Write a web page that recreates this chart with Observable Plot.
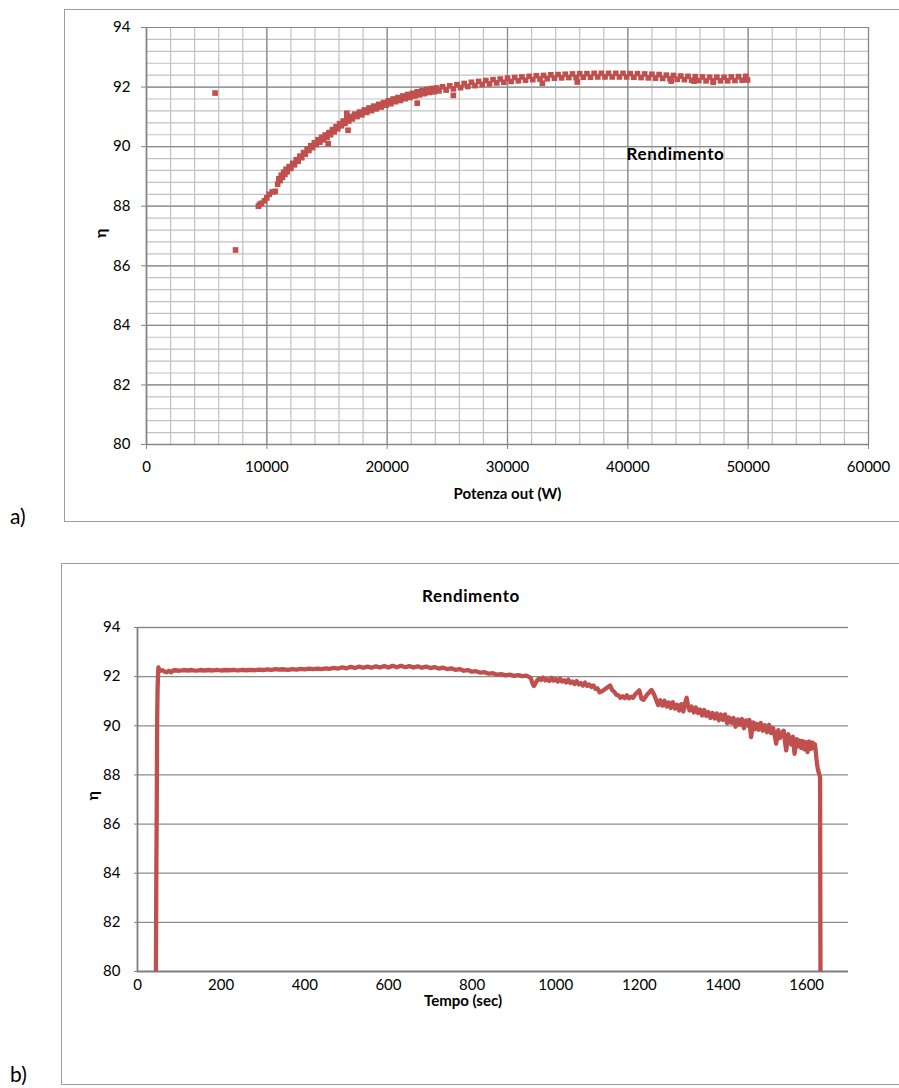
<!DOCTYPE html>
<html><head><meta charset="utf-8">
<script src="https://cdn.jsdelivr.net/npm/d3@7"></script>
<script src="https://cdn.jsdelivr.net/npm/@observablehq/plot@0.6"></script>
<style>
html,body{margin:0;padding:0;background:#fff;}
#page{position:relative;width:899px;height:1088px;overflow:hidden;font-family:Lato,"Open Sans",sans-serif;}
.frame{position:absolute;border:1px solid #9d9d9d;}
.panel{position:absolute;left:0;}
.tag{position:absolute;font-size:21px;color:#000;font-family:Lato,sans-serif;}
</style></head><body><div id="page">
<div class="frame" style="left:64px;top:9px;width:870px;height:511px;"></div>
<div class="frame" style="left:61px;top:563px;width:870px;height:520px;"></div>
<div class="tag" style="left:10px;top:503px">a)</div>
<div class="tag" style="left:10px;top:1061px">b)</div>
<div class="panel" id="chartA" style="top:0"></div>
<div class="panel" id="chartB" style="top:545px"></div>
</div>
<script>
// ---- Chart a) data: efficiency vs output power ----
const xTicksA = [0, 10000, 20000, 30000, 40000, 50000, 60000];
const yTicksA = [80, 82, 84, 86, 88, 90, 92, 94];
const powerW = [
 9300, 9400, 9550, 9800, 10000, 10200, 10450, 10700,
 10900, 11000, 11100, 11200, 11300, 11400, 11500, 11600, 11700, 11850, 12000, 12150,
 12300, 12450, 12600, 12750, 12900, 13050, 13200, 13350, 13500, 13650, 13800, 13950,
 14100, 14250, 14400, 14550, 14700, 14850, 15000, 15150, 15300, 15450, 15600, 15750,
 15900, 16050, 16200, 16350, 16500, 16650, 16800, 16950, 17100, 17300, 17500, 17700,
 17900, 18100, 18300, 18500, 18700, 18900, 19100, 19300, 19500, 19700, 19900, 20100,
 20300, 20500, 20700, 20900, 21100, 21300, 21500, 21700, 21900, 22100, 22300, 22500,
 22700, 22900, 23100, 23300, 23500, 23700, 23900, 24100, 24300, 24600, 24900, 25200,
 25500, 25800, 26100, 26400, 26700, 27000, 27300, 27600, 27900, 28200, 28500, 28800,
 29100, 29400, 29700, 30000, 30300, 30600, 30900, 31200, 31500, 31800, 32100, 32400,
 32700, 33000, 33300, 33600, 33900, 34200, 34500, 34800, 35100, 35400, 35700, 36000,
 36300, 36600, 36900, 37200, 37500, 37800, 38100, 38400, 38700, 39000, 39300, 39600,
 39900, 40200, 40500, 40800, 41100, 41400, 41700, 42000, 42300, 42600, 42900, 43200,
 43500, 43800, 44100, 44400, 44700, 45000, 45300, 45600, 45900, 46200, 46500, 46800,
 47100, 47400, 47700, 48000, 48300, 48600, 48900, 49200, 49500, 49800, 49950,
 5700, 7400, 15100, 16750, 16650, 22500, 25500, 32900, 35800, 43600, 47100, 45500
];
const etaA = [
 88.00, 88.06, 88.10, 88.18, 88.28, 88.40, 88.48, 88.50,
 88.74, 88.92, 88.86, 89.04, 88.97, 89.14, 89.07, 89.24, 89.16, 89.33, 89.27, 89.44,
 89.39, 89.56, 89.51, 89.68, 89.63, 89.80, 89.75, 89.92, 89.87, 90.03, 89.97, 90.13,
 90.07, 90.23, 90.15, 90.31, 90.23, 90.39, 90.31, 90.47, 90.40, 90.57, 90.50, 90.67,
 90.60, 90.77, 90.70, 90.86, 90.78, 90.94, 90.86, 91.01, 90.93, 91.09, 91.01, 91.16,
 91.07, 91.23, 91.15, 91.30, 91.21, 91.36, 91.27, 91.42, 91.33, 91.48, 91.39, 91.54,
 91.44, 91.60, 91.51, 91.65, 91.55, 91.70, 91.61, 91.75, 91.65, 91.79, 91.70, 91.84,
 91.74, 91.88, 91.78, 91.92, 91.82, 91.95, 91.84, 91.97, 91.87, 92.01, 91.90, 92.04,
 91.94, 92.08, 91.98, 92.12, 92.02, 92.16, 92.05, 92.19, 92.09, 92.22, 92.11, 92.25,
 92.14, 92.27, 92.16, 92.30, 92.19, 92.32, 92.21, 92.34, 92.23, 92.36, 92.25, 92.38,
 92.27, 92.39, 92.28, 92.41, 92.30, 92.42, 92.31, 92.43, 92.32, 92.44, 92.32, 92.45,
 92.33, 92.45, 92.33, 92.46, 92.34, 92.46, 92.34, 92.46, 92.34, 92.46, 92.34, 92.46,
 92.34, 92.45, 92.33, 92.45, 92.32, 92.44, 92.31, 92.43, 92.30, 92.42, 92.29, 92.40,
 92.28, 92.39, 92.26, 92.37, 92.25, 92.36, 92.23, 92.35, 92.22, 92.34, 92.21, 92.33,
 92.21, 92.33, 92.21, 92.33, 92.21, 92.34, 92.22, 92.35, 92.23, 92.36, 92.24,
 91.80, 86.53, 90.10, 90.55, 91.12, 91.46, 91.72, 92.13, 92.17, 92.20, 92.16, 92.20
];

// ---- Chart b) data: efficiency vs time ----
const xTicksB = [0, 200, 400, 600, 800, 1000, 1200, 1400, 1600];
const yTicksB = [80, 82, 84, 86, 88, 90, 92, 94];
const timeS = [
 44, 45, 46, 47, 48, 49, 50, 52, 55, 60, 65, 70, 75, 80, 85, 90,
 100, 110, 120, 130, 140, 150, 160, 170, 180, 190, 200, 210, 220, 230, 240, 250,
 260, 270, 280, 290, 300, 310, 320, 330, 340, 350, 360, 370, 380, 390, 400, 410,
 420, 430, 440, 450, 460, 470, 480, 490, 500, 510, 520, 530, 540, 550, 560, 570,
 580, 590, 600, 610, 620, 630, 640, 650, 660, 670, 680, 690, 700, 710, 720, 730,
 740, 750, 760, 770, 780, 790, 800, 810, 820, 830, 840, 850, 860, 870, 880, 890,
 900, 910, 920, 930, 940, 945, 948, 952, 956,
 960, 965, 970, 975, 980, 985, 990, 995, 1000, 1005,
 1010, 1015, 1020, 1025, 1030, 1035, 1040, 1045, 1050, 1055,
 1060, 1065, 1070, 1075, 1080, 1085, 1090, 1095, 1100, 1105,
 1110, 1115, 1120, 1125, 1130, 1135, 1140, 1145, 1150, 1155,
 1160, 1165, 1170, 1175, 1180, 1185, 1190, 1195, 1200, 1205,
 1210, 1215, 1220, 1225, 1229, 1235, 1240, 1245, 1250, 1255,
 1260, 1265, 1270, 1275, 1280, 1285, 1290, 1295, 1300, 1305,
 1309, 1313, 1317, 1320, 1325, 1330, 1335, 1340, 1345, 1350,
 1355, 1360, 1365, 1370, 1375, 1380, 1385, 1390, 1395, 1400,
 1405, 1410, 1415, 1420, 1425, 1430, 1435, 1440, 1445, 1450,
 1455, 1460, 1463, 1467, 1472, 1476, 1480, 1485, 1490, 1495,
 1500, 1505, 1510, 1515, 1520, 1524, 1527, 1532, 1536, 1540,
 1545, 1548, 1551, 1556, 1560, 1563, 1567, 1571, 1576, 1580,
 1583, 1587, 1590, 1594, 1598, 1602, 1606, 1610, 1614, 1618,
 1620, 1622, 1624, 1626, 1629, 1632, 1633
];
const etaB = [
 80.0, 84.0, 86.6, 90.2, 91.5, 92.0, 92.38, 92.30, 92.24, 92.26, 92.20, 92.18, 92.24, 92.18, 92.25, 92.26,
 92.24, 92.27, 92.25, 92.27, 92.24, 92.27, 92.25, 92.27, 92.25, 92.28, 92.25, 92.27, 92.26, 92.28, 92.25, 92.28,
 92.26, 92.28, 92.26, 92.29, 92.27, 92.30, 92.28, 92.31, 92.29, 92.30, 92.28, 92.31, 92.29, 92.32, 92.30, 92.33,
 92.31, 92.33, 92.31, 92.34, 92.32, 92.36, 92.33, 92.38, 92.34, 92.40, 92.35, 92.41, 92.36, 92.41, 92.36, 92.42,
 92.37, 92.43, 92.37, 92.44, 92.38, 92.44, 92.38, 92.43, 92.37, 92.42, 92.36, 92.41, 92.35, 92.39, 92.33, 92.37,
 92.31, 92.34, 92.28, 92.31, 92.24, 92.27, 92.20, 92.22, 92.16, 92.18, 92.12, 92.14, 92.08, 92.10, 92.05, 92.08,
 92.03, 92.06, 92.02, 92.04, 91.95, 91.70, 91.62, 91.75, 91.85,
 91.92, 91.86, 91.96, 91.85, 91.90, 91.82, 91.95, 91.84, 91.90, 91.80,
 91.92, 91.80, 91.85, 91.76, 91.88, 91.74, 91.80, 91.70, 91.82, 91.68,
 91.74, 91.64, 91.76, 91.62, 91.68, 91.58, 91.64, 91.50, 91.52, 91.36,
 91.40, 91.46, 91.52, 91.58, 91.64, 91.45, 91.38, 91.26, 91.24, 91.14,
 91.20, 91.12, 91.24, 91.12, 91.18, 91.14, 91.28, 91.36, 91.44, 91.10,
 91.06, 91.18, 91.30, 91.38, 91.46, 91.28, 91.06, 90.84, 91.04, 90.82,
 91.02, 90.78, 90.95, 90.72, 90.96, 90.70, 90.86, 90.62, 90.88, 90.58,
 90.90, 91.14, 90.76, 90.62, 90.78, 90.54, 90.74, 90.52, 90.66, 90.42,
 90.64, 90.40, 90.56, 90.32, 90.52, 90.30, 90.50, 90.22, 90.46, 90.24,
 90.46, 90.10, 90.34, 90.12, 90.32, 89.96, 90.26, 90.04, 90.28, 89.90,
 90.22, 90.00, 90.24, 89.54, 90.14, 89.86, 90.08, 89.84, 90.12, 89.80,
 90.02, 89.74, 90.04, 89.70, 89.90, 89.56, 89.27, 89.82, 89.50, 89.70,
 89.80, 89.36, 89.00, 89.66, 89.36, 89.24, 89.56, 88.86, 89.46, 89.16,
 89.40, 89.10, 89.38, 89.04, 89.34, 88.93, 89.36, 89.06, 89.32, 89.08,
 89.24, 88.90, 88.55, 88.30, 88.08, 87.92, 80.0
];

const RED = "#C0504D";
const FONT = "Lato, 'Open Sans', sans-serif";

const nA = Math.min(powerW.length, etaA.length);
const dataA = d3.range(nA).map(i => ({p: powerW[i], e: etaA[i]}));
const minorXA = d3.range(0, 60001, 2000);
const minorYA = d3.range(0, 36).map(i => 80 + i * 0.4).filter(v => v <= 94.001);

const chartA = Plot.plot({
  width: 899, height: 530,
  marginLeft: 146, marginRight: 31, marginTop: 27, marginBottom: 86,
  style: {fontFamily: FONT, fontSize: "15px", color: "#000", background: "transparent", overflow: "visible"},
  x: {domain: [0, 60000]},
  y: {domain: [80, 94]},
  marks: [
    Plot.ruleX(minorXA, {stroke: "#c2c2c2", strokeWidth: 1.2}),
    Plot.ruleY(minorYA, {stroke: "#c2c2c2", strokeWidth: 1.2}),
    Plot.ruleX(xTicksA, {stroke: "#888888", strokeWidth: 1.2}),
    Plot.ruleY(yTicksA, {stroke: "#888888", strokeWidth: 1.2}),
    Plot.ruleX([0], {stroke: "#868686", strokeWidth: 1.6}),
    Plot.ruleY([80], {stroke: "#868686", strokeWidth: 1.6}),
    Plot.axisX({ticks: xTicksA, tickSize: 5, tickPadding: 12, tickFormat: d3.format("d"), stroke: "#868686", label: null}),
    Plot.axisY({ticks: yTicksA, tickSize: 5, tickPadding: 11, tickFormat: d3.format("d"), stroke: "#868686", label: null}),
    Plot.dot(dataA, {x: "p", y: "e", symbol: "square", r: 3.2, fill: RED, stroke: null}),
    Plot.text(["Rendimento"], {text: d => d, frameAnchor: "top-left", dx: 529, dy: 127, textAnchor: "middle", lineAnchor: "middle", fontWeight: "bold", fontSize: 17}),
    Plot.text(["Potenza out (W)"], {text: d => d, frameAnchor: "bottom", dy: 50, lineAnchor: "middle", fontWeight: "bold", fontSize: 15}),
    Plot.text(["η"], {text: d => d, frameAnchor: "left", dx: -46, dy: 2, rotate: -90, lineAnchor: "middle", fontWeight: "bold", fontSize: 16})
  ]
});
document.getElementById("chartA").appendChild(chartA);

const nB = Math.min(timeS.length, etaB.length);
const dataB = d3.range(nB).map(i => ({t: timeS[i], e: etaB[i]}));

const chartB = Plot.plot({
  width: 899, height: 543,
  marginLeft: 137, marginRight: 51, marginTop: 82, marginBottom: 117,
  style: {fontFamily: FONT, fontSize: "15px", color: "#000", background: "transparent", overflow: "visible"},
  x: {domain: [0, 1700]},
  y: {domain: [80, 94]},
  marks: [
    Plot.ruleY(yTicksB.filter(v => v > 80), {stroke: "#8c8c8c", strokeWidth: 1.3}),
    Plot.ruleX([0], {stroke: "#7f7f7f", strokeWidth: 1.8}),
    Plot.ruleY([80], {stroke: "#7f7f7f", strokeWidth: 1.8}),
    Plot.axisX({ticks: xTicksB, tickSize: 0, tickPadding: 8, tickFormat: d3.format("d"), label: null}),
    Plot.axisY({ticks: yTicksB, tickSize: 3, tickPadding: 14, tickFormat: d3.format("d"), stroke: "#7f7f7f", label: null}),
    Plot.line(dataB, {x: "t", y: "e", stroke: RED, strokeWidth: 4.3, strokeLinejoin: "round", strokeLinecap: "butt"}),
    Plot.text(["Rendimento"], {text: d => d, frameAnchor: "top", dx: -22, dy: -31, lineAnchor: "middle", fontWeight: "bold", fontSize: 17}),
    Plot.text(["Tempo (sec)"], {text: d => d, frameAnchor: "bottom", dx: -30, dy: 30, lineAnchor: "middle", fontWeight: "bold", fontSize: 15}),
    Plot.text(["η"], {text: d => d, frameAnchor: "left", dx: -45, dy: 1, rotate: -90, lineAnchor: "middle", fontWeight: "bold", fontSize: 16})
  ]
});
document.getElementById("chartB").appendChild(chartB);

// slightly open letter spacing of the bold titles, like the original rendering
for (const svg of [chartA, chartB]) {
  d3.select(svg).selectAll("text")
    .filter(function() { return this.textContent === "Rendimento"; })
    .attr("letter-spacing", "0.6px");
}
</script>
</body></html>
